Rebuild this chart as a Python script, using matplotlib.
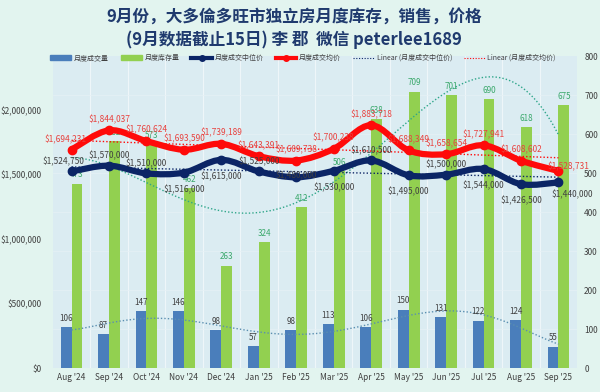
import numpy as np
import matplotlib
matplotlib.use("Agg")
import matplotlib.pyplot as plt
from matplotlib.path import Path
from matplotlib.patches import PathPatch, Patch
from matplotlib.lines import Line2D

plt.rcParams['font.family'] = ['Noto Sans CJK SC', 'DejaVu Sans']

months = ["Aug '24", "Sep '24", "Oct '24", "Nov '24", "Dec '24", "Jan '25", "Feb '25",
          "Mar '25", "Apr '25", "May '25", "Jun '25", "Jul '25", "Aug '25", "Sep '25"]
sales = [106, 87, 147, 146, 98, 57, 98, 113, 106, 150, 131, 122, 124, 55]
inventory = [473, 582, 573, 462, 263, 324, 412, 506, 638, 709, 701, 690, 618, 675]
median_price = [1524750, 1570000, 1510000, 1516000, 1615000, 1525000, 1480000,
                1530000, 1610500, 1495000, 1500000, 1544000, 1426500, 1440000]
avg_price = [1694231, 1844037, 1760624, 1693590, 1739189, 1643391, 1609738,
             1700238, 1883718, 1688349, 1658654, 1727941, 1608602, 1528731]

# label offsets (points) and alignment for the price labels
avg_off = [(-4, 7), (0, 8), (0, 8), (0, 8), (0, 8), (0, 8), (0, 8),
           (0, 8), (0, 8), (0, 8), (0, 8), (0, 8), (0, 8), (-8, 3)]
avg_ha = ["center"] * 13 + ["left"]
med_off = [(-6, 7), (0, 7), (0, 7), (0, -12), (0, -12), (0, 7), (0, 1),
           (0, -12), (0, 7), (0, -12), (0, 7), (0, -12), (0, -12), (-5, -9)]
med_ha = ["center"] * 13 + ["left"]

navy = "#0b2566"
red = "#ff0a0a"
blue = "#4a7ebb"
green = "#92d050"

fig = plt.figure(figsize=(6, 3.92), dpi=100, facecolor="#e2f4ef")
ax2 = fig.add_axes([0.088, 0.061, 0.874, 0.796])
ax2.set_facecolor("#dbecf2")
ax = ax2.twinx()
ax.yaxis.tick_left()

x = np.arange(len(months))
w = 0.29

# gridlines
for xx in x[:-1]:
    ax2.axvline(xx + 0.5, color="#eef6f9", lw=0.8, zorder=0)
for yy in range(100, 800, 100):
    ax2.axhline(yy, color="#e6f1f5", lw=0.5, zorder=0)

# bars on the count axis
ax2.bar(x - w / 2, sales, w, color=blue, zorder=2)
ax2.bar(x + w / 2, inventory, w, color=green, zorder=2)
for i in range(len(x)):
    ax2.annotate(str(sales[i]), (x[i] - w / 2, sales[i]), xytext=(0, 3), textcoords="offset points",
                 ha="center", va="bottom", fontsize=5.8, color="#404040", zorder=6)
    ax2.annotate(str(inventory[i]), (x[i] + w / 2, inventory[i]), xytext=(0, 3), textcoords="offset points",
                 ha="center", va="bottom", fontsize=5.8, color="#3aa86b", zorder=6)

# polynomial trends for the counts
xs = np.linspace(0, len(x) - 1, 200)
ps = np.polyfit(x, sales, 6)
ax2.plot(xs, np.polyval(ps, xs), ls=(0, (1, 1.5)), color="#5b8fb0", lw=1, zorder=3)
pi = np.polyfit(x, inventory, 4)
ax2.plot(xs, np.polyval(pi, xs), ls=(0, (1, 1.5)), color="#2fa68a", lw=1, zorder=3)
ax2.set_ylim(0, 800)
ax2.set_yticks(range(0, 900, 100))
ax2.yaxis.tick_right()
ax2.tick_params(axis="y", length=0, labelsize=6, colors="#404040", pad=5)
ax2.set_xticks(x)
ax2.set_xticklabels(months)
ax2.tick_params(axis="x", length=0, labelsize=6, colors="#404040")


def smooth_path(xv, yv):
    # Catmull-Rom style bezier through the points, like Excel's smoothed line
    pts = np.column_stack([xv, yv]).astype(float)
    verts = [pts[0]]
    codes = [Path.MOVETO]
    n = len(pts)
    for i in range(n - 1):
        p0 = pts[i - 1] if i > 0 else pts[i]
        p1, p2 = pts[i], pts[i + 1]
        p3 = pts[i + 2] if i + 2 < n else pts[i + 1]
        c1 = p1 + (p2 - p0) / 6
        c2 = p2 - (p3 - p1) / 6
        verts += [c1, c2, p2]
        codes += [Path.CURVE4] * 3
    return Path(verts, codes)


# price lines on the dollar axis
for vals, col in [(median_price, navy), (avg_price, red)]:
    ax.add_patch(PathPatch(smooth_path(x, vals), fill=False, edgecolor=col, lw=4.5, zorder=4,
                           capstyle="round", joinstyle="round"))
    ax.plot(x, vals, "o", color=col, ms=6, zorder=5)
    k = np.polyfit(x, vals, 1)
    ax.plot(x, np.polyval(k, x), ls=(0, (1, 1.5)), color=col, lw=1, zorder=3)

for i in range(len(x)):
    ax.annotate("${:,}".format(avg_price[i]), (x[i], avg_price[i]), xytext=avg_off[i],
                textcoords="offset points", ha=avg_ha[i], va="center", fontsize=6,
                color="#e8423f", zorder=6)
    ax.annotate("${:,}".format(median_price[i]), (x[i], median_price[i]), xytext=med_off[i],
                textcoords="offset points", ha=med_ha[i], va="center", fontsize=6,
                color="#404040", zorder=6)

ax.set_xlim(-0.5, len(x) - 0.5)
ax.set_ylim(0, 2420000)
ax.set_yticks([0, 500000, 1000000, 1500000, 2000000])
ax.set_yticklabels(["$0", "$500,000", "$1,000,000", "$1,500,000", "$2,000,000"])
ax.tick_params(axis="y", length=0, labelsize=6, colors="#404040", pad=8)
for a in (ax, ax2):
    for s in a.spines.values():
        s.set_visible(False)

fig.text(0.49, 0.955, "9月份，大多倫多旺市独立房月度库存，销售，价格", ha="center", va="center",
         fontsize=12, fontweight="bold", color="#1f3a6e")
fig.text(0.49, 0.898, "(9月数据截止15日) 李 郡  微信 peterlee1689", ha="center", va="center",
         fontsize=12, fontweight="bold", color="#1f3a6e")

handles = [Patch(color=blue), Patch(color=green),
           Line2D([], [], color=navy, lw=3, marker="o", ms=4),
           Line2D([], [], color=red, lw=3, marker="o", ms=4),
           Line2D([], [], color=navy, lw=0.8, ls=(0, (1, 1.5))),
           Line2D([], [], color=red, lw=0.8, ls=(0, (1, 1.5)))]
labels = ["月度成交量", "月度库存量", "月度成交中位价", "月度成交均价",
          "Linear (月度成交中位价)", "Linear (月度成交均价)"]
fig.legend(handles, labels, loc="center", bbox_to_anchor=(0.505, 0.852), ncol=6, frameon=False,
           fontsize=5, handlelength=3, columnspacing=1.7, handletextpad=0.4, labelcolor="#404040")

fig.savefig("out.png", dpi=100, facecolor=fig.get_facecolor())
